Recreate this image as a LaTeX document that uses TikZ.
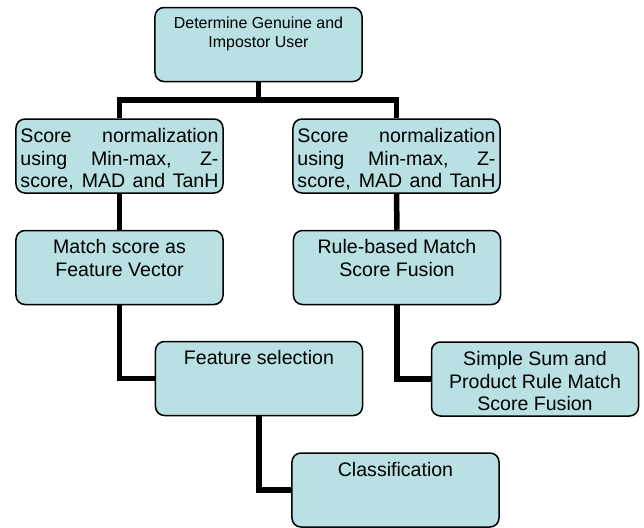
\documentclass[tikz,border=0pt]{standalone}
\usepackage{fontspec}
\setmainfont{Liberation Sans}
\usetikzlibrary{positioning}
\definecolor{paleblue}{RGB}{185,224,227}
% text of one box, set at its top
\newcommand{\boxtext}[1]{\parbox[c][1.68cm][t]{5.94cm}{\centering #1}}
% one justified line
\newcommand{\fullline}[1]{\makebox[\linewidth][s]{#1}}
\tikzset{
    % rounded stage box
    stage/.style={
        draw=black,
        fill=paleblue,
        rounded corners=0.27cm,
        line width=0.045cm,
        inner xsep=0.135cm,
        inner ysep=0.27cm,
        font=\fontsize{16.7}{19.5}\selectfont,
    },
    % thick elbow connector
    link/.style={
        line width=0.165cm,
    },
}
\begin{document}
\begin{tikzpicture}[x=0.03cm,y=-0.03cm]
\useasboundingbox (0,0) rectangle (644,527);
% Top
\node[stage, font=\fontsize{13.6}{16.2}\selectfont] (main) at (258.5,44.5)
    {\boxtext{Determine Genuine and\\Impostor User}};
\coordinate (split) at (258.5,100);
% Left branch
\node[stage] (normA) at (119.5,156) {\boxtext{\fullline{Score normalization}\\
    \fullline{using Min-max, Z-}\\\fullline{score, MAD and TanH}}};
\node[stage] (vecA) at (119.5,267.5) {\boxtext{Match score as\\Feature Vector}};
\node[stage] (select) at (259,378.5) {\boxtext{Feature selection}};
\node[stage] (classify) at (395.5,490) {\boxtext{Classification}};
% Right branch
\node[stage] (normB) at (396.5,156) {\boxtext{\fullline{Score normalization}\\
    \fullline{using Min-max, Z-}\\\fullline{score, MAD and TanH}}};
\node[stage] (fuseB) at (397,267.5) {\boxtext{Rule-based Match\\Score Fusion}};
\node[stage] (simple) at (535,379) {\boxtext{Simple Sum and\\Product Rule Match\\Score Fusion}};
% Connectors
\draw[link] (main.south) -- (split);
\draw[link] (normA.north) |- (split) -| (normB.north);
\draw[link] (normA.south) -- (vecA.north);
\draw[link] (vecA.south) |- (select.west);
\draw[link] (select.south) |- (classify.west);
\draw[link] (normB.south) -- (fuseB.north);
\draw[link] (fuseB.south) |- (simple.west);
\end{tikzpicture}
\end{document}
